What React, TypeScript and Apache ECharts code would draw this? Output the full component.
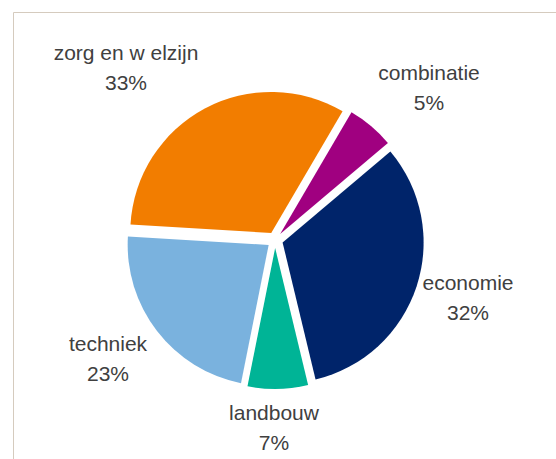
import React, { useEffect, useRef } from "react";
import * as echarts from "echarts";

const categories = ["combinatie", "economie", "landbouw", "techniek", "zorg en w elzijn"];
const values = [5.4, 32.4, 6.9, 22.8, 32.5];
const colors = ["#A00080", "#00246A", "#00B496", "#7AB2DE", "#F27D00"];

// label block centre offsets from the pie centre (px)
const LABEL_OFFSETS: [number, number][] = [
  [154, -153],
  [193, 57],
  [-1, 187],
  [-167, 118],
  [-149, -173],
];

const CX = 275;
const CY = 240;

export default function App() {
  const ref = useRef<HTMLDivElement>(null);
  useEffect(() => {
    if (!ref.current) return;
    const chart = echarts.init(ref.current, undefined, { renderer: "svg" });
    const labels = categories.map((name, i) => ({
      type: "text",
      x: CX + LABEL_OFFSETS[i][0],
      y: CY + LABEL_OFFSETS[i][1],
      silent: true,
      style: {
        text: `${name}\n${Math.round(values[i])}%`,
        fontFamily: "Liberation Sans, Arial, sans-serif",
        fontSize: 21,
        lineHeight: 30,
        fill: "#404040",
        align: "center",
        verticalAlign: "middle",
      },
    }));
    chart.setOption({
      animation: false,
      backgroundColor: "#ffffff",
      graphic: [
        {
          type: "rect",
          shape: { x: 13.5, y: 12.5, width: 1000, height: 1000 },
          style: { fill: "none", stroke: "#D5CBBE", lineWidth: 1 },
          silent: true,
        },
        ...labels,
      ],
      series: [
        {
          type: "pie",
          center: [CX, CY],
          radius: [0, 141],
          startAngle: 59.6,
          clockwise: true,
          selectedMode: "multiple",
          selectedOffset: 8,
          emphasis: { disabled: true },
          itemStyle: { borderWidth: 0 },
          label: { show: false },
          labelLine: { show: false },
          data: categories.map((name, i) => ({
            name,
            value: values[i],
            selected: true,
            itemStyle: { color: colors[i] },
          })),
        },
      ],
    });
    return () => chart.dispose();
  }, []);
  return (
    <div
      ref={ref}
      style={{ position: "absolute", left: 0, top: 0, width: 556, height: 459 }}
    />
  );
}
